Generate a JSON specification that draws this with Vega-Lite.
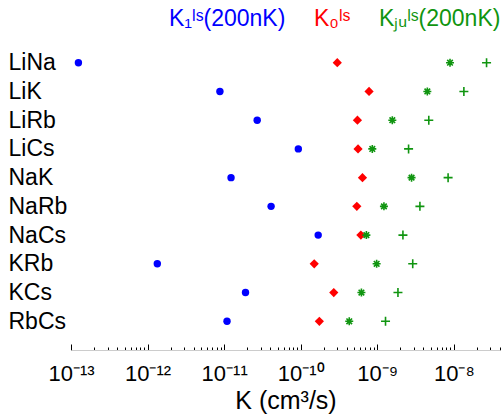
{
  "$schema": "https://vega.github.io/schema/vega-lite/v6.json",
  "autosize": "none",
  "width": 429,
  "height": 316,
  "padding": {"left": 71, "top": 34, "right": 3, "bottom": 69},
  "config": {
    "view": {"stroke": null},
    "font": "Liberation Sans"
  },
  "data": {
    "values": [
      {"mol": "LiNa", "K": 1.25e-13, "group": "K₁ˡˢ(200nK)", "marker": "circle"},
      {"mol": "LiK", "K": 8.8e-12, "group": "K₁ˡˢ(200nK)", "marker": "circle"},
      {"mol": "LiRb", "K": 2.7e-11, "group": "K₁ˡˢ(200nK)", "marker": "circle"},
      {"mol": "LiCs", "K": 9.3e-11, "group": "K₁ˡˢ(200nK)", "marker": "circle"},
      {"mol": "NaK", "K": 1.23e-11, "group": "K₁ˡˢ(200nK)", "marker": "circle"},
      {"mol": "NaRb", "K": 4.1e-11, "group": "K₁ˡˢ(200nK)", "marker": "circle"},
      {"mol": "NaCs", "K": 1.69e-10, "group": "K₁ˡˢ(200nK)", "marker": "circle"},
      {"mol": "KRb", "K": 1.34e-12, "group": "K₁ˡˢ(200nK)", "marker": "circle"},
      {"mol": "KCs", "K": 1.9e-11, "group": "K₁ˡˢ(200nK)", "marker": "circle"},
      {"mol": "RbCs", "K": 1.09e-11, "group": "K₁ˡˢ(200nK)", "marker": "circle"},
      {"mol": "LiNa", "K": 3.0e-10, "group": "K₀ˡˢ", "marker": "diamond"},
      {"mol": "LiK", "K": 7.8e-10, "group": "K₀ˡˢ", "marker": "diamond"},
      {"mol": "LiRb", "K": 5.5e-10, "group": "K₀ˡˢ", "marker": "diamond"},
      {"mol": "LiCs", "K": 5.6e-10, "group": "K₀ˡˢ", "marker": "diamond"},
      {"mol": "NaK", "K": 6.4e-10, "group": "K₀ˡˢ", "marker": "diamond"},
      {"mol": "NaRb", "K": 5.4e-10, "group": "K₀ˡˢ", "marker": "diamond"},
      {"mol": "NaCs", "K": 6.1e-10, "group": "K₀ˡˢ", "marker": "diamond"},
      {"mol": "KRb", "K": 1.5e-10, "group": "K₀ˡˢ", "marker": "diamond"},
      {"mol": "KCs", "K": 2.7e-10, "group": "K₀ˡˢ", "marker": "diamond"},
      {"mol": "RbCs", "K": 1.75e-10, "group": "K₀ˡˢ", "marker": "diamond"},
      {"mol": "LiNa", "K": 8.9e-9, "group": "Kⱼᵤˡˢ(200nK)", "marker": "star"},
      {"mol": "LiK", "K": 4.5e-9, "group": "Kⱼᵤˡˢ(200nK)", "marker": "star"},
      {"mol": "LiRb", "K": 1.57e-9, "group": "Kⱼᵤˡˢ(200nK)", "marker": "star"},
      {"mol": "LiCs", "K": 8.6e-10, "group": "Kⱼᵤˡˢ(200nK)", "marker": "star"},
      {"mol": "NaK", "K": 2.8e-9, "group": "Kⱼᵤˡˢ(200nK)", "marker": "star"},
      {"mol": "NaRb", "K": 1.22e-9, "group": "Kⱼᵤˡˢ(200nK)", "marker": "star"},
      {"mol": "NaCs", "K": 7.2e-10, "group": "Kⱼᵤˡˢ(200nK)", "marker": "star"},
      {"mol": "KRb", "K": 9.8e-10, "group": "Kⱼᵤˡˢ(200nK)", "marker": "star"},
      {"mol": "KCs", "K": 6.2e-10, "group": "Kⱼᵤˡˢ(200nK)", "marker": "star"},
      {"mol": "RbCs", "K": 4.3e-10, "group": "Kⱼᵤˡˢ(200nK)", "marker": "star"},
      {"mol": "LiNa", "K": 2.67e-8, "group": "Kⱼᵤˡˢ(200nK)", "marker": "plus"},
      {"mol": "LiK", "K": 1.35e-8, "group": "Kⱼᵤˡˢ(200nK)", "marker": "plus"},
      {"mol": "LiRb", "K": 4.7e-9, "group": "Kⱼᵤˡˢ(200nK)", "marker": "plus"},
      {"mol": "LiCs", "K": 2.56e-9, "group": "Kⱼᵤˡˢ(200nK)", "marker": "plus"},
      {"mol": "NaK", "K": 8.4e-9, "group": "Kⱼᵤˡˢ(200nK)", "marker": "plus"},
      {"mol": "NaRb", "K": 3.6e-9, "group": "Kⱼᵤˡˢ(200nK)", "marker": "plus"},
      {"mol": "NaCs", "K": 2.16e-9, "group": "Kⱼᵤˡˢ(200nK)", "marker": "plus"},
      {"mol": "KRb", "K": 2.9e-9, "group": "Kⱼᵤˡˢ(200nK)", "marker": "plus"},
      {"mol": "KCs", "K": 1.86e-9, "group": "Kⱼᵤˡˢ(200nK)", "marker": "plus"},
      {"mol": "RbCs", "K": 1.28e-9, "group": "Kⱼᵤˡˢ(200nK)", "marker": "plus"}
    ]
  },
  "encoding": {
    "x": {
      "field": "K",
      "type": "quantitative",
      "scale": {"type": "log", "domain": [1e-13, 4e-8], "nice": false},
      "axis": {
        "title": "K (cm³/s)",
        "titleFontSize": 25,
        "titleFontWeight": "normal",
        "titleColor": "black",
        "titlePadding": 1,
        "values": [1e-13, 2e-13, 3e-13, 4e-13, 5e-13, 6e-13, 7e-13, 8e-13, 9e-13,
                   1e-12, 2e-12, 3e-12, 4e-12, 5e-12, 6e-12, 7e-12, 8e-12, 9e-12,
                   1e-11, 2e-11, 3e-11, 4e-11, 5e-11, 6e-11, 7e-11, 8e-11, 9e-11,
                   1e-10, 2e-10, 3e-10, 4e-10, 5e-10, 6e-10, 7e-10, 8e-10, 9e-10,
                   1e-9, 2e-9, 3e-9, 4e-9, 5e-9, 6e-9, 7e-9, 8e-9, 9e-9,
                   1e-8, 2e-8, 3e-8, 4e-8],
        "labelExpr": "datum.value==1e-13?'10⁻¹³':datum.value==1e-12?'10⁻¹²':datum.value==1e-11?'10⁻¹¹':datum.value==1e-10?'10⁻¹⁰':datum.value==1e-9?'10⁻⁹':datum.value==1e-8?'10⁻⁸':''",
        "labelFontSize": 22,
        "labelColor": "black",
        "labelPadding": 19,
        "labelFlush": false,
        "labelOverlap": false,
        "tickColor": "black",
        "tickSize": {"condition": {"test": "datum.value==1e-13||datum.value==1e-12||datum.value==1e-11||datum.value==1e-10||datum.value==1e-9||datum.value==1e-8", "value": -6}, "value": -3},
        "domainColor": "#cccccc",
        "grid": false
      }
    },
    "y": {
      "field": "mol",
      "type": "nominal",
      "sort": ["LiNa", "LiK", "LiRb", "LiCs", "NaK", "NaRb", "NaCs", "KRb", "KCs", "RbCs"],
      "scale": {"type": "point", "padding": 1},
      "axis": {
        "title": null,
        "domain": false,
        "ticks": false,
        "grid": false,
        "labelAlign": "left",
        "labelPadding": 63,
        "labelFontSize": 23,
        "labelColor": "black"
      }
    },
    "color": {
      "field": "group",
      "type": "nominal",
      "scale": {
        "domain": ["K₁ˡˢ(200nK)", "K₀ˡˢ", "Kⱼᵤˡˢ(200nK)"],
        "range": ["#0000ff", "#ff0000", "#109510"]
      },
      "legend": {
        "title": null,
        "orient": "none",
        "legendX": 75,
        "legendY": -27,
        "direction": "horizontal",
        "padding": 0,
        "columnPadding": 5,
        "symbolSize": 0,
        "symbolOpacity": 0,
        "symbolStrokeWidth": 0,
        "labelOffset": 0,
        "labelFontSize": 23,
        "labelLimit": 300,
        "encoding": {
          "labels": {
            "fill": {
              "condition": [
                {"test": "datum.value == 'K₀ˡˢ'", "value": "#ff0000"},
                {"test": "datum.value == 'Kⱼᵤˡˢ(200nK)'", "value": "#109510"}
              ],
              "value": "#0000ff"
            }
          }
        }
      }
    }
  },
  "layer": [
    {
      "transform": [{"filter": "datum.marker == 'circle'"}],
      "mark": {"type": "point", "shape": "circle", "filled": true, "size": 55, "opacity": 1}
    },
    {
      "transform": [{"filter": "datum.marker == 'diamond'"}],
      "mark": {"type": "point", "shape": "diamond", "filled": true, "size": 85, "opacity": 1}
    },
    {
      "transform": [{"filter": "datum.marker == 'star'"}],
      "mark": {"type": "point", "shape": "M-1,0L1,0M0,-1L0,1M-0.7,-0.7L0.7,0.7M-0.7,0.7L0.7,-0.7", "filled": false, "size": 64, "strokeWidth": 1.6, "opacity": 1}
    },
    {
      "transform": [{"filter": "datum.marker == 'plus'"}],
      "mark": {"type": "point", "shape": "M-1,0L1,0M0,-1L0,1", "filled": false, "size": 81, "strokeWidth": 1.6, "opacity": 1}
    }
  ]
}
